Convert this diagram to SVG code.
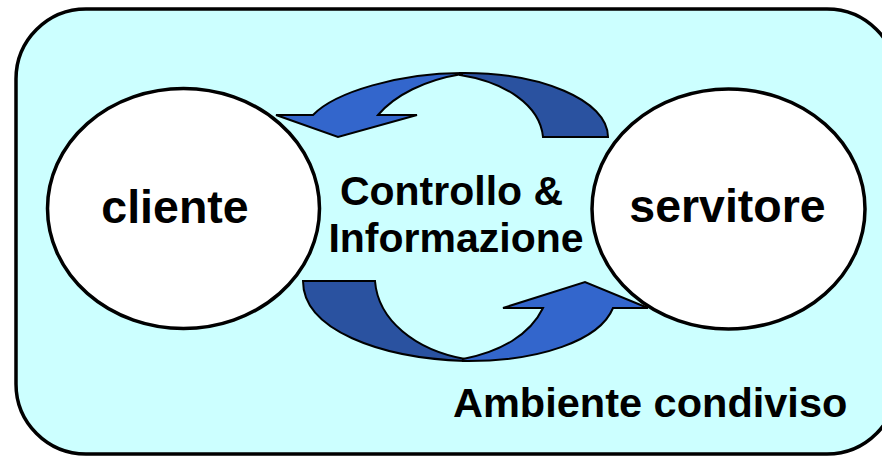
<svg xmlns="http://www.w3.org/2000/svg" width="882" height="456" viewBox="0 0 882 456">
<style>
.t{font-family:"Liberation Sans",Arial,sans-serif;font-weight:bold;fill:#000}
.node{fill:#fff;stroke:#000;stroke-width:3.5}
.lt{fill:#3366CC;stroke:#000;stroke-width:2;stroke-linejoin:miter}
.dk{fill:#2A52A0;stroke:#000;stroke-width:2;stroke-linejoin:miter}
</style>
<g id="ambiente">
<rect x="16" y="9" width="881" height="445" rx="70" ry="70" fill="#CCFFFF" stroke="#000" stroke-width="3.5"/>
<text class="t" x="453" y="417" font-size="41.5">Ambiente condiviso</text>
</g>
<g id="connectors">
<g id="arrow-top">
<path class="dk" d="M460,73 C540,72 608,100 608,137 L543,137 C540,105 505,82 460,75 Z"/>
<path class="lt" d="M462,73 C400,73 335,92 313,115 L276,115 L338,137 L417,115 L378,115 C395,95 425,80 462,74 Z"/>
</g>
<g id="arrow-bottom">
<path class="dk" d="M303,281 L375,281 C378,320 415,350 465,359 L465,361 C380,358 303,330 303,281 Z"/>
<path class="lt" d="M463,361 C540,362 600,340 613,308 L648,308 L585,282 L503,308 L543,308 C530,335 500,352 463,359 Z"/>
</g>
</g>
<g id="label">
<text class="t" x="451.5" y="205" font-size="41" text-anchor="middle">Controllo &amp;</text>
<text class="t" x="456" y="252" font-size="41" text-anchor="middle">Informazione</text>
</g>
<g id="cliente">
<ellipse class="node" cx="183.5" cy="208.5" rx="136" ry="120"/>
<text class="t" x="175" y="223" font-size="46.5" text-anchor="middle">cliente</text>
</g>
<g id="servitore">
<ellipse class="node" cx="728.5" cy="209" rx="136.5" ry="120"/>
<text class="t" x="727.5" y="222" font-size="46.5" text-anchor="middle">servitore</text>
</g>
</svg>
